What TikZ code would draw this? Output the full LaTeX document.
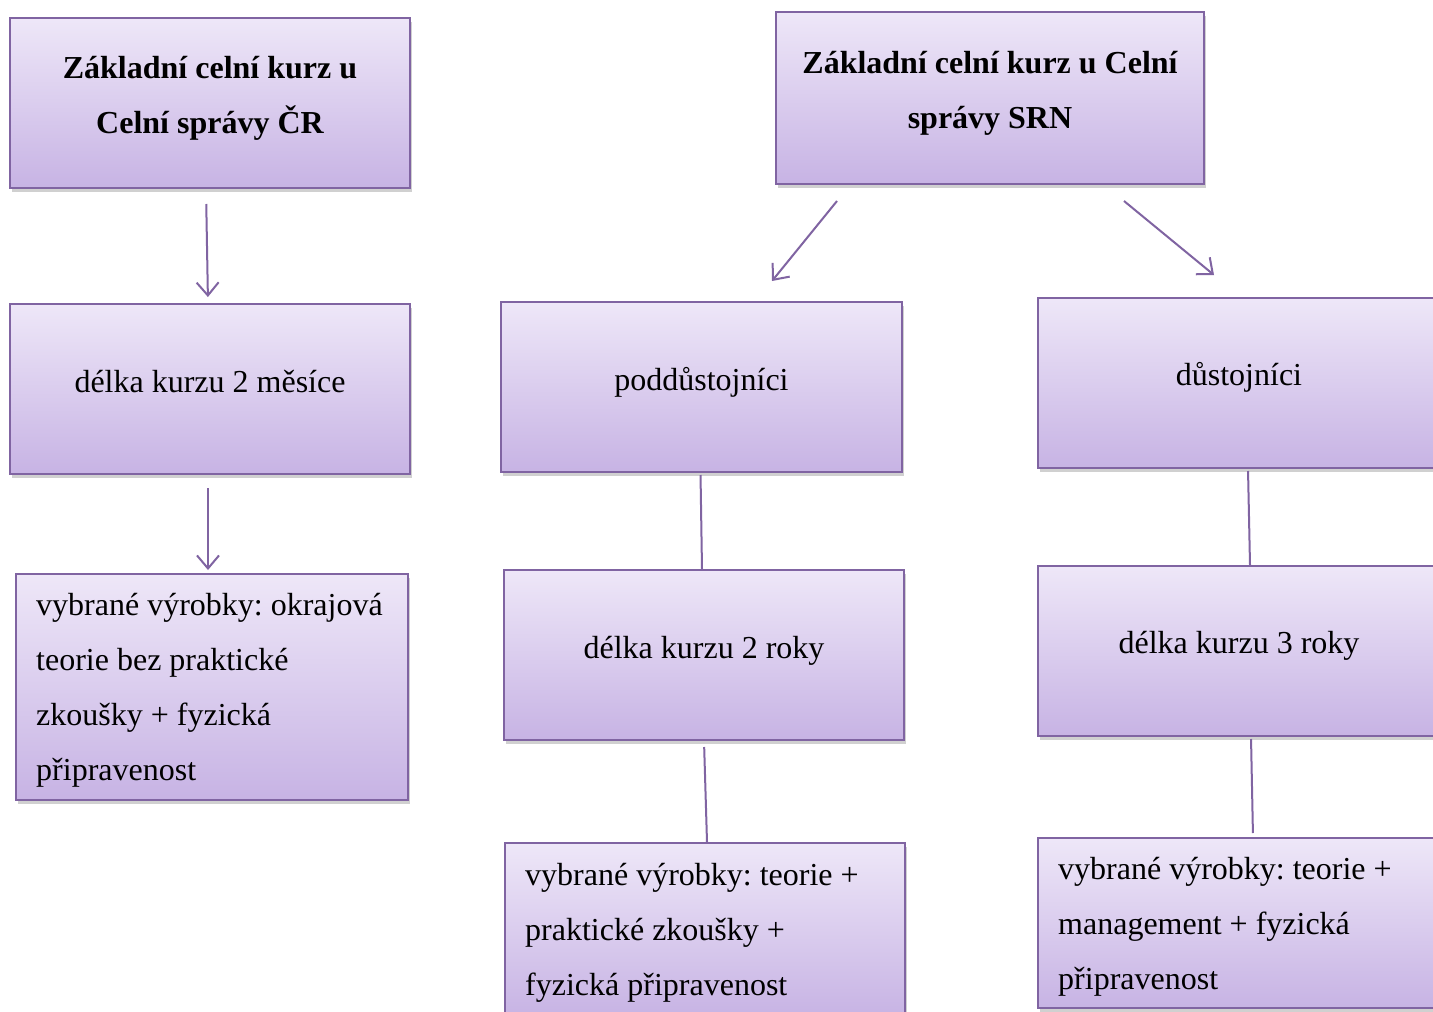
\documentclass[tikz,border=0pt]{standalone}
\usepackage{fontspec}
\setmainfont{Liberation Serif}
\usetikzlibrary{arrows.meta,shadows,calc}
\definecolor{edge}{HTML}{8064A2}
\definecolor{topc}{HTML}{EEE7F8}
\definecolor{botc}{HTML}{C7B3E4}
\tikzset{
  box/.style={draw=edge, line width=2pt, rectangle, top color=topc, bottom color=botc,
    drop shadow={shadow xshift=2pt, shadow yshift=-4pt, opacity=0.3, fill=black!60},
    inner sep=0pt},
  txt/.style={font=\fontsize{32}{55}\selectfont\frenchspacing, inner sep=0pt, align=center, fill=none, draw=none},
  ltxt/.style={txt, align=left, anchor=west, xshift=21pt},
  conn/.style={draw=edge, line width=2pt},
  arr/.style={conn, -{Straight Barb[length=13pt, width=22pt, line width=2pt]}}
}
\begin{document}
\begin{tikzpicture}[x=1pt,y=-1pt]
\useasboundingbox (0,0) rectangle (1433,1012);
\clip (0,0) rectangle (1433,1012);
\fill[white] (0,0) rectangle (1433,1012);
% left column
\node[box, minimum width=400pt, minimum height=170pt,
  label={[txt, yshift=5pt]center:{\bfseries Základní celní kurz u\\\bfseries Celní správy ČR}}] (A) at (210,103) {};
\node[box, minimum width=400pt, minimum height=170pt,
  label={[txt, yshift=7pt]center:{délka kurzu 2 měsíce}}] (B) at (210,389) {};
\node[box, minimum width=392pt, minimum height=226pt,
  label={[ltxt, yshift=-3pt]west:{vybrané výrobky: okrajová\\teorie bez praktické\\zkoušky + fyzická\\připravenost}}] (C) at (212,687) {};
% top right
\node[box, minimum width=428pt, minimum height=172pt,
  label={[txt, yshift=5pt]center:{\bfseries Základní celní kurz u Celní\\\bfseries správy SRN}}] (D) at (990,98) {};
% middle column
\node[box, minimum width=401pt, minimum height=170pt,
  label={[txt, yshift=5pt]center:{poddůstojníci}}] (E) at (701.5,387) {};
\node[box, minimum width=400pt, minimum height=170pt,
  label={[txt, yshift=4pt]center:{délka kurzu 2 roky}}] (G) at (704,655) {};
\node[box, minimum width=400pt, minimum height=174pt,
  label={[ltxt, yshift=-3pt]west:{vybrané výrobky: teorie +\\praktické zkoušky +\\fyzická připravenost}}] (I) at (705,930) {};
% right column
\node[box, minimum width=402pt, minimum height=170pt,
  label={[txt, yshift=6pt]center:{důstojníci}}] (F) at (1239,383) {};
\node[box, minimum width=402pt, minimum height=170pt,
  label={[txt, yshift=5pt]center:{délka kurzu 3 roky}}] (H) at (1239,651) {};
\node[box, minimum width=402pt, minimum height=170pt,
  label={[ltxt, yshift=-4pt]west:{vybrané výrobky: teorie +\\management + fyzická\\připravenost}}] (J) at (1239,923) {};
% connectors
\draw[arr, shorten <=15pt, shorten >=6pt] ($(A.south)+(-4,0)$) -- ($(B.north)+(-2,0)$);
\draw[arr, shorten <=13pt, shorten >=3pt] ($(B.south)+(-2,0)$) -- ($(C.north)+(-4,0)$);
\path (D.south west) ++(62,16) coordinate (d1);
\path (D.south west) ++(349,16) coordinate (d2);
\path (E.north west) ++(272,-20) coordinate (e1);
\path (F.north west) ++(177,-22) coordinate (f1);
\draw[arr] (d1) -- (e1);
\draw[arr] (d2) -- (f1);
\draw[conn, shorten <=2pt] ($(E.south)+(-1,0)$) -- ($(G.north)+(-2,0)$);
\draw[conn, shorten <=6pt] (G.south) -- ($(I.north)+(2,0)$);
\draw[conn, shorten <=2pt] ($(F.south)+(9,0)$) -- ($(H.north)+(11,0)$);
\draw[conn, shorten <=2pt, shorten >=4pt] ($(H.south)+(12,0)$) -- ($(J.north)+(14,0)$);
\end{tikzpicture}
\end{document}
